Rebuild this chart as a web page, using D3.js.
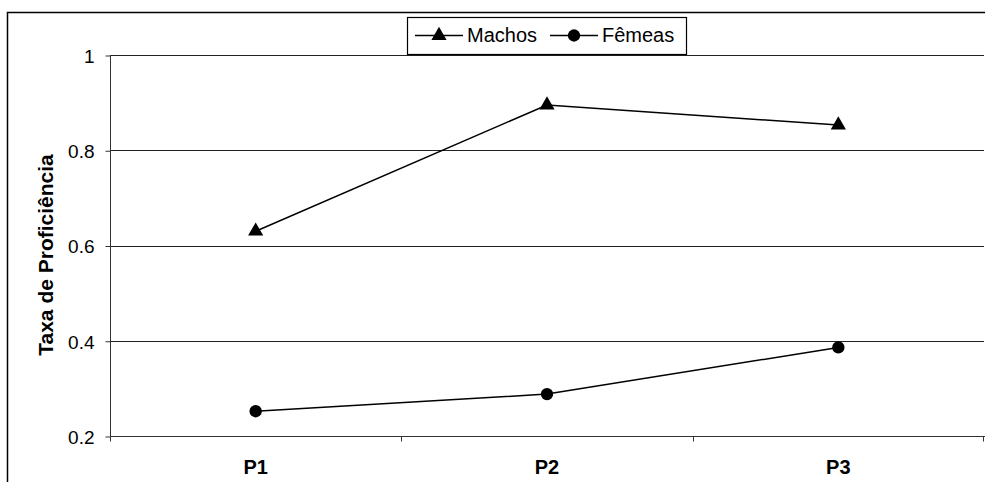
<!DOCTYPE html>
<html>
<head>
<meta charset="utf-8">
<script src="https://cdn.jsdelivr.net/npm/d3@7"></script>
<style>
  html, body { margin: 0; padding: 0; background: #fff; }
  svg { display: block; font-family: "Liberation Sans", Arial, sans-serif; }
</style>
</head>
<body>
<svg id="chart" width="985" height="482"></svg>
<script>
// Proficiency rate by period, split by sex
const periods = ["P1", "P2", "P3"];
const machos = [0.63, 0.895, 0.853];
const femeas = [0.252, 0.288, 0.386];
const yTicks = [0.2, 0.4, 0.6, 0.8, 1];
const seriesNames = ["Machos", "Fêmeas"];

const svg = d3.select("#chart");
const W = 985, H = 482;
const plot = { left: 110, right: 984, top: 55, bottom: 436 };
const FONT = "Liberation Sans, Arial, sans-serif";

// outer chart frame (left and top edges visible in the window)
svg.append("path")
  .attr("d", `M7.5,${H} V12.5 H${W}`)
  .attr("fill", "none").attr("stroke", "#000").attr("stroke-width", 1.5);

const x = d3.scaleBand().domain(periods).range([plot.left, plot.right]).padding(0);
const y = d3.scaleLinear().domain([0.2, 1]).range([plot.bottom, plot.top]);

// horizontal gridlines
svg.append("g").selectAll("line").data(yTicks.filter(t => t > 0.2)).join("line")
  .attr("x1", plot.left).attr("x2", plot.right)
  .attr("y1", d => Math.round(y(d)) + 0.5).attr("y2", d => Math.round(y(d)) + 0.5)
  .attr("stroke", "#222").attr("stroke-width", 1.2);

// y axis
const yAxis = svg.append("g")
  .attr("transform", `translate(${plot.left + 0.5},0.5)`)
  .call(d3.axisLeft(y).tickValues(yTicks).tickSize(5).tickPadding(11)
    .tickFormat(d => d === 1 ? "1" : d3.format(".1f")(d)));
yAxis.attr("font-size", 19).attr("font-family", FONT);
yAxis.select(".domain").attr("stroke", "#333").attr("d", `M0,${y(1)}V${y(0.2)}`);
yAxis.selectAll(".tick line").attr("stroke", "#333");
yAxis.selectAll("text").attr("fill", "#000").attr("dy", "0.36em");

// x axis with category boundaries as ticks
const xAxisG = svg.append("g").attr("transform", `translate(0,${plot.bottom + 0.5})`);
xAxisG.append("line").attr("x1", plot.left).attr("x2", plot.right + 1)
  .attr("stroke", "#333");
const bounds = periods.map(p => x(p)).concat([x(periods[periods.length - 1]) + x.bandwidth()]);
xAxisG.selectAll("line.tk").data(bounds).join("line").attr("class", "tk")
  .attr("x1", d => Math.min(Math.round(d) + 0.5, W - 1.5)).attr("x2", d => Math.min(Math.round(d) + 0.5, W - 1.5))
  .attr("y1", 0).attr("y2", 5).attr("stroke", "#333");
xAxisG.selectAll("text").data(periods).join("text")
  .attr("x", d => x(d) + x.bandwidth() / 2).attr("y", 37)
  .attr("text-anchor", "middle").attr("font-size", 20).attr("font-weight", "bold")
  .attr("font-family", FONT)
  .text(d => d);

// y axis title
svg.append("text")
  .attr("transform", `translate(53,255) rotate(-90)`)
  .attr("text-anchor", "middle").attr("font-size", 21).attr("font-weight", "bold")
  .attr("font-family", FONT)
  .text("Taxa de Proficiência");

const cx = p => x(p) + x.bandwidth() / 2;
const line = d3.line().x((d, i) => cx(periods[i])).y(d => y(d));

const triangle = d3.symbol().type(d3.symbolTriangle).size(100);
const circle = d3.symbol().type(d3.symbolCircle).size(120);

function drawSeries(values, sym) {
  svg.append("path").datum(values).attr("d", line)
    .attr("fill", "none").attr("stroke", "#000").attr("stroke-width", 1.5);
  svg.append("g").selectAll("path").data(values).join("path")
    .attr("transform", (d, i) => `translate(${cx(periods[i])},${y(d)})`)
    .attr("d", sym).attr("fill", "#000");
}
drawSeries(machos, triangle);
drawSeries(femeas, circle);

// legend
const lg = svg.append("g");
lg.append("rect").attr("x", 407.5).attr("y", 17.5).attr("width", 279).attr("height", 37)
  .attr("fill", "#fff").attr("stroke", "#000").attr("stroke-width", 1.2);
const items = [
  { name: seriesNames[0], x0: 415, sym: triangle },
  { name: seriesNames[1], x0: 550, sym: circle }
];
items.forEach(it => {
  lg.append("line").attr("x1", it.x0).attr("x2", it.x0 + 48)
    .attr("y1", 35.5).attr("y2", 35.5).attr("stroke", "#000").attr("stroke-width", 1.5);
  lg.append("path").attr("transform", `translate(${it.x0 + 24},35.5)`)
    .attr("d", it.sym).attr("fill", "#000");
  lg.append("text").attr("x", it.x0 + 52).attr("y", 41.5)
    .attr("font-size", 20).attr("font-family", FONT).text(it.name);
});
</script>
</body>
</html>
